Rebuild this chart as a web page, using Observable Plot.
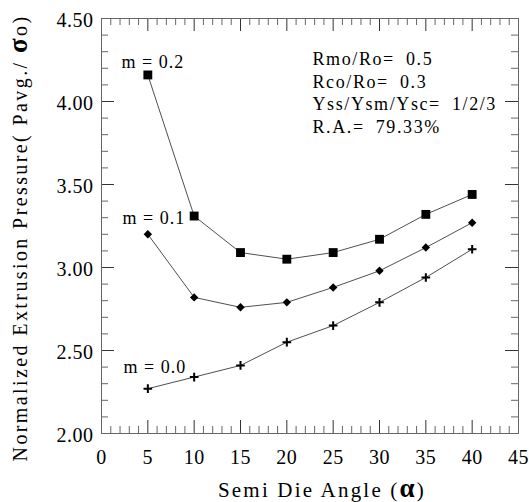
<!DOCTYPE html>
<html><head><meta charset="utf-8">
<script src="https://cdn.jsdelivr.net/npm/d3@7"></script>
<script src="https://cdn.jsdelivr.net/npm/@observablehq/plot@0.6"></script>
<style>
body{margin:0;background:#fff;}
svg{display:block;}
</style>
</head><body><div id="chart"></div>
<script>
// ---- data ----
const angles = [5, 10, 15, 20, 25, 30, 35, 40];
const pressureM02 = [4.16, 3.31, 3.09, 3.05, 3.09, 3.17, 3.32, 3.44];
const pressureM01 = [3.20, 2.82, 2.76, 2.79, 2.88, 2.98, 3.12, 3.27];
const pressureM00 = [2.27, 2.34, 2.41, 2.55, 2.65, 2.79, 2.94, 3.11];
const seriesNames = ["m = 0.2", "m = 0.1", "m = 0.0"];
const xTickValues = [0, 5, 10, 15, 20, 25, 30, 35, 40, 45];
const yTickValues = [2.0, 2.5, 3.0, 3.5, 4.0, 4.5];
const notes = ["Rmo/Ro= 0.5", "Rco/Ro= 0.3", "Yss/Ysm/Ysc= 1/2/3", "R.A.= 79.33%"];
const xTitle = "Semi Die Angle (α)";
const yTitle = "Normalized Extrusion Pressure( Pavg./ σo)";

// ---- layout ----
const W = 529, H = 502, ml = 101, mr = 11, mt = 18, mb = 69;
const innerW = W - ml - mr, innerH = H - mt - mb;
const font = "'Liberation Serif', 'DejaVu Serif', serif";
const tickColor = "#666";

const series = [pressureM02, pressureM01, pressureM00];
const rows = [];
series.forEach((vals, i) => angles.forEach((a, j) => rows.push({angle: a, p: vals[j], m: seriesNames[i]})));
const bySeries = name => rows.filter(r => r.m === name);

const xMinor = d3.range(0, 46).filter(v => !xTickValues.includes(v));
const yMinor = d3.range(20, 46).map(v => v / 10).filter(v => !yTickValues.some(t => Math.abs(t - v) < 1e-9));

const txt = {fontFamily: font};

const chart = Plot.plot({
  width: W, height: H,
  marginLeft: ml, marginRight: mr, marginTop: mt, marginBottom: mb,
  style: `font-family: ${font}; font-size: 18px; background: #fff; color: #000;`,
  x: {domain: [0, 45], axis: null},
  y: {domain: [2, 4.5], axis: null},
  marks: [
    // inward ticks on all four sides
    Plot.tickX(xMinor, {x: d => d, insetTop: innerH - 7, stroke: tickColor}),
    Plot.tickX(xMinor, {x: d => d, insetBottom: innerH - 7, stroke: tickColor}),
    Plot.tickX(xTickValues, {x: d => d, insetTop: innerH - 13, stroke: "#333"}),
    Plot.tickX(xTickValues, {x: d => d, insetBottom: innerH - 13, stroke: "#333"}),
    Plot.tickY(yMinor, {y: d => d, insetRight: innerW - 7, stroke: tickColor}),
    Plot.tickY(yMinor, {y: d => d, insetLeft: innerW - 7, stroke: tickColor}),
    Plot.tickY(yTickValues, {y: d => d, insetRight: innerW - 13, stroke: "#333"}),
    Plot.tickY(yTickValues, {y: d => d, insetLeft: innerW - 13, stroke: "#333"}),
    Plot.frame({stroke: tickColor}),
    // series lines
    Plot.line(rows, {x: "angle", y: "p", z: "m", stroke: "#222", strokeWidth: 0.8}),
    Plot.dot(bySeries(seriesNames[0]), {x: "angle", y: "p", symbol: "square", r: 5, fill: "#000"}),
    Plot.dot(bySeries(seriesNames[1]), {x: "angle", y: "p", symbol: "diamond2", r: 3.8, fill: "#000"}),
    Plot.dot(bySeries(seriesNames[2]), {x: "angle", y: "p", symbol: "plus", r: 2.9, stroke: "#000", strokeWidth: 2}),
    // series labels
    Plot.text([bySeries(seriesNames[0])[0]], {...txt, x: "angle", y: "p", text: "m", dx: 5, dy: -13, fontSize: 18}),
    Plot.text([bySeries(seriesNames[1])[0]], {...txt, x: "angle", y: "p", text: "m", dx: 6, dy: -16, fontSize: 18}),
    Plot.text([bySeries(seriesNames[2])[0]], {...txt, x: "angle", y: "p", text: "m", dx: 7, dy: -21, fontSize: 18}),
    // notes
    Plot.text([notes.join("\n")], {...txt, frameAnchor: "top-left", dx: 211, dy: 31, textAnchor: "start", lineAnchor: "top", lineHeight: 1.25, fontSize: 18}),
    // axes
    Plot.axisX(xTickValues, {...txt, anchor: "bottom", tickSize: 0, tickPadding: 16, fontSize: 20, tickFormat: d => String(d), label: null}),
    Plot.axisY(yTickValues, {...txt, anchor: "left", tickSize: 0, tickPadding: 8, fontSize: 20, dy: 2, tickFormat: d3.format(".2f"), label: null}),
    // titles
    Plot.text([xTitle], {...txt, frameAnchor: "bottom", textAnchor: "middle", dx: 12, dy: 57, lineAnchor: "middle", fontSize: 21}),
    Plot.text([yTitle], {...txt, frameAnchor: "left", textAnchor: "middle", rotate: -90, dx: -81, dy: 12, lineAnchor: "middle", fontSize: 20})
  ]
});

document.getElementById("chart").appendChild(chart);
const svg = d3.select(chart);
svg.selectAll("text, tspan").attr("font-family", font).style("font-family", font);
const allText = svg.selectAll("text");
const byContent = pred => allText.filter(function () { return pred(this.textContent); });

byContent(s => seriesNames.includes(s)).attr("letter-spacing", 1);
svg.selectAll("tspan").filter(function () { return notes.includes(this.textContent); })
  .attr("letter-spacing", 1.6).attr("word-spacing", 5)
  .style("letter-spacing", "1.6px").style("word-spacing", "5px");
byContent(s => /^\d+(\.\d+)?$/.test(s)).attr("letter-spacing", 0.5);

// richer titles: larger Greek glyphs
function rebuild(sel, parts, spacing) {
  sel.each(function () {
    const t = d3.select(this);
    t.text(null).attr("letter-spacing", spacing);
    parts.forEach(([s, attrs]) => {
      const ts = t.append("tspan").text(s);
      Object.entries(attrs || {}).forEach(([k, v]) => ts.attr(k, v));
    });
  });
}
rebuild(byContent(s => s === xTitle), [["Semi Die Angle ("], ["α", {"font-size": 27, "font-weight": "bold"}], [")"]], 2.2);
rebuild(byContent(s => s === yTitle), [["Normalized Extrusion Pressure( Pavg./ "], ["σ", {"font-size": 27, "font-weight": "bold"}], ["o)"]], 2.4);
</script>
</body></html>
